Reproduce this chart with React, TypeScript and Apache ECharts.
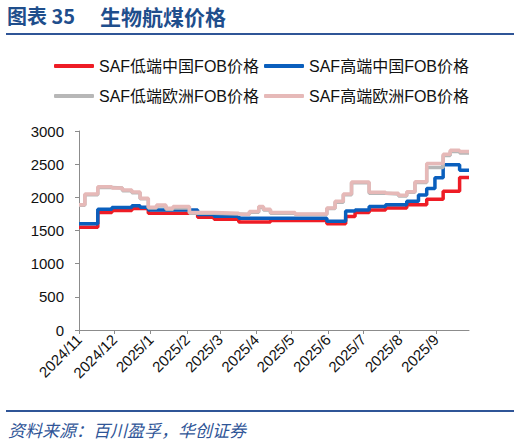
import { useEffect, useRef } from 'react';
import * as echarts from 'echarts';

// change points of each step line (value holds until the next date)
const lowCnDates = ['2024-11-01', '2024-11-17', '2024-11-29', '2024-12-16', '2024-12-30', '2025-02-10', '2025-02-24', '2025-03-17', '2025-04-13', '2025-05-31', '2025-06-16', '2025-06-24', '2025-07-06', '2025-07-20', '2025-08-07', '2025-08-24', '2025-09-07', '2025-09-21', '2025-09-29'];
const lowCnValues = [1550, 1770, 1800, 1830, 1760, 1700, 1670, 1630, 1650, 1600, 1710, 1770, 1810, 1840, 1890, 1970, 2090, 2300, 2300];

const highCnDates = ['2024-11-01', '2024-11-17', '2024-11-29', '2024-12-16', '2024-12-23', '2024-12-30', '2025-02-10', '2025-02-24', '2025-03-17', '2025-05-31', '2025-06-16', '2025-06-24', '2025-07-06', '2025-07-20', '2025-08-07', '2025-08-17', '2025-08-24', '2025-08-31', '2025-09-07', '2025-09-21', '2025-09-29'];
const highCnValues = [1600, 1820, 1845, 1875, 1850, 1810, 1740, 1715, 1685, 1640, 1795, 1810, 1860, 1890, 1940, 2035, 2135, 2295, 2490, 2410, 2410];

const euDates = ['2024-11-01', '2024-11-06', '2024-11-17', '2024-11-29', '2024-12-08', '2024-12-16', '2024-12-23', '2024-12-30', '2025-01-06', '2025-01-14', '2025-01-20', '2025-02-03', '2025-02-24', '2025-03-17', '2025-03-26', '2025-04-03', '2025-04-07', '2025-04-13', '2025-05-04', '2025-05-31', '2025-06-07', '2025-06-14', '2025-06-21', '2025-07-06', '2025-07-20', '2025-07-31', '2025-08-07', '2025-08-14', '2025-08-24', '2025-09-07', '2025-09-13', '2025-09-21', '2025-09-29'];
const lowEuValues = [1880, 2040, 2150, 2140, 2100, 2070, 1980, 1840, 1870, 1820, 1840, 1760, 1750, 1740, 1775, 1850, 1810, 1760, 1740, 1830, 1925, 2040, 2220, 2060, 2050, 2020, 2075, 2225, 2450, 2630, 2690, 2670, 2670];
const highEuValues = [1890, 2050, 2160, 2140, 2110, 2080, 1985, 1850, 1885, 1835, 1860, 1770, 1760, 1745, 1785, 1860, 1820, 1770, 1750, 1840, 1940, 2050, 2230, 2075, 2060, 2030, 2085, 2235, 2510, 2650, 2710, 2690, 2690];

const seriesNames = ['SAF低端中国FOB价格', 'SAF高端中国FOB价格', 'SAF低端欧洲FOB价格', 'SAF高端欧洲FOB价格'];
const seriesColors = ['#ee1c25', '#0a5fbd', '#b7b7b7', '#e6b9b8'];
const yTicks = [0, 500, 1000, 1500, 2000, 2500, 3000];

const zip = (d: string[], v: number[]) => d.map((x, i) => [x, v[i]]);

export default function App() {
  const ref = useRef<HTMLDivElement>(null);

  useEffect(() => {
    if (!ref.current) return;
    const chart = echarts.init(ref.current, undefined, { renderer: 'svg' });
    const seriesData = [
      zip(lowCnDates, lowCnValues),
      zip(highCnDates, highCnValues),
      zip(euDates, lowEuValues),
      zip(euDates, highEuValues),
    ];
    const legendBase = {
      left: 49,
      itemWidth: 40,
      itemHeight: 4,
      itemGap: 5,
      icon: 'roundRect',
      textStyle: {
        fontFamily: 'Liberation Sans, Noto Sans CJK SC',
        fontSize: 16,
        color: '#111',
      },
    };
    chart.setOption({
      animation: false,
      textStyle: { fontFamily: 'Liberation Sans, Noto Sans CJK SC' },
      grid: { left: 79, right: 51, top: 131, bottom: 117 },
      legend: [
        { ...legendBase, data: seriesNames.slice(0, 2), top: 53 },
        { ...legendBase, data: seriesNames.slice(2), top: 83 },
      ],
      xAxis: {
        type: 'time',
        min: '2024-11-01',
        max: '2025-09-29',
        splitNumber: 11,
        minInterval: 28 * 86400000,
        maxInterval: 31 * 86400000,
        axisLine: { lineStyle: { color: '#8c8c8c', width: 1 } },
        axisTick: { show: true, length: 4, lineStyle: { color: '#8c8c8c' } },
        splitLine: { show: false },
        axisLabel: {
          rotate: 45,
          fontSize: 15,
          color: '#111',
          margin: 7,
          showMaxLabel: false,
          hideOverlap: false,
          formatter: (v: number) => {
            const d = new Date(v);
            return `${d.getFullYear()}/${d.getMonth() + 1}`;
          },
        },
      },
      yAxis: {
        type: 'value',
        min: yTicks[0],
        max: yTicks[yTicks.length - 1],
        interval: 500,
        axisLine: { show: true, lineStyle: { color: '#8c8c8c', width: 1 } },
        axisTick: { show: true, length: 4, lineStyle: { color: '#8c8c8c' } },
        splitLine: { show: false },
        axisLabel: { fontSize: 15, color: '#111', margin: 15, formatter: (v: number) => String(v) },
      },
      series: seriesNames.map((name, i) => ({
        name,
        type: 'line',
        step: 'end',
        showSymbol: false,
        data: seriesData[i],
        color: seriesColors[i],
        lineStyle: { width: 3.5, color: seriesColors[i] },
      })),
      graphic: [
        {
          type: 'text',
          left: 7,
          top: 5,
          style: { text: '图表 35', fontFamily: 'Noto Sans CJK SC', fontWeight: 'bold', fontSize: 20, fill: '#1f4e8c' },
        },
        {
          type: 'text',
          left: 100,
          top: 5,
          style: { text: '生物航煤价格', fontFamily: 'Noto Sans CJK SC', fontWeight: 'bold', fontSize: 21, fill: '#1f4e8c' },
        },
        {
          type: 'line',
          shape: { x1: 6, y1: 34, x2: 514, y2: 34 },
          style: { stroke: '#2f5597', lineWidth: 2 },
        },
        {
          type: 'line',
          shape: { x1: 6, y1: 411, x2: 514, y2: 411 },
          style: { stroke: '#2f5597', lineWidth: 2 },
        },
        {
          type: 'text',
          left: 8,
          top: 421,
          style: { text: '资料来源：百川盈孚，华创证券', fontFamily: 'Noto Sans CJK SC', fontStyle: 'italic', fontSize: 17, fill: '#2f5597' },
        },
      ],
    });
    return () => chart.dispose();
  }, []);

  return (
    <div
      ref={ref}
      style={{ position: 'fixed', left: 0, top: 0, width: 520, height: 447, background: '#fff' }}
    />
  );
}
